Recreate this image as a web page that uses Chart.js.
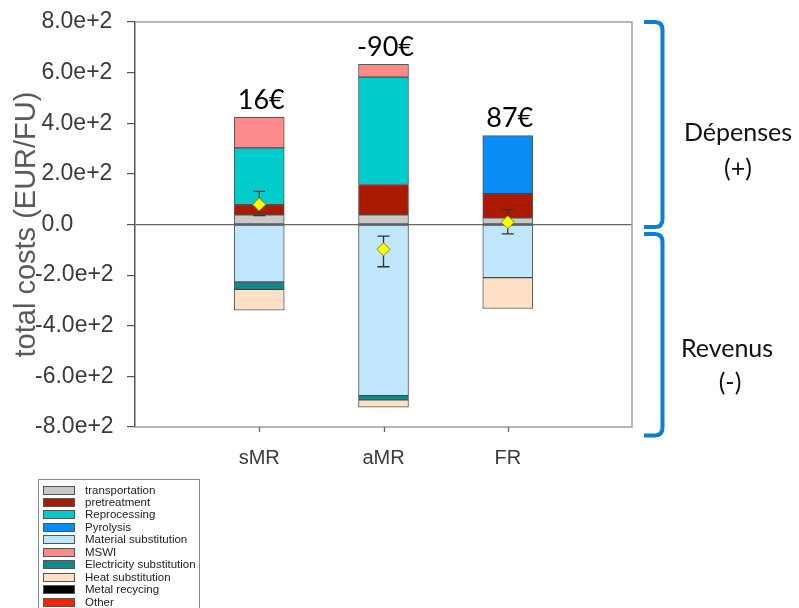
<!DOCTYPE html>
<html>
<head>
<meta charset="utf-8">
<script src="https://cdn.jsdelivr.net/npm/chart.js@4.4.1/dist/chart.umd.min.js"></script>
<style>
  html, body { margin: 0; padding: 0; background: #fff; }
  body { width: 799px; height: 608px; overflow: hidden; position: relative; font-family: "Liberation Sans", Arial, sans-serif; }
  #c { position: absolute; left: 0; top: 0; }
  .side { position: absolute; font-family: Lato, "Open Sans", sans-serif; font-size: 25px; color: #111; transform: translate(-50%, -50%); white-space: nowrap; line-height: 1; }
  #legend { position: absolute; left: 38px; top: 479px; width: 162px; height: 140px; border: 1px solid #8a8a8a; box-sizing: border-box; background: #fff; }
  .lg-row { position: absolute; left: 4px; height: 12px; white-space: nowrap; }
  .lg-sw { position: absolute; left: 0; top: 1px; width: 32px; height: 9px; border: 1px solid #555; box-sizing: border-box; }
  .lg-tx { position: absolute; left: 42px; top: -1px; font-size: 11.5px; color: #222; line-height: 12px; }
  svg { position: absolute; left: 0; top: 0; }
</style>
</head>
<body>
<canvas id="c" width="799" height="608"></canvas>
<svg width="799" height="608">
  <path d="M644,22 H655 Q662.5,22 662.5,30 V219 Q662.5,227 655,227 H644" fill="none" stroke="#0b80d3" stroke-width="4"/>
  <path d="M644,234 H655 Q662.5,234 662.5,242 V427 Q662.5,435.5 655,435.5 H644" fill="none" stroke="#0b80d3" stroke-width="4"/>
</svg>
<div class="side" style="left:738px; top:131px;">Dépenses</div>
<div class="side" style="left:738px; top:167px;">(+)</div>
<div class="side" style="left:727px; top:347px;">Revenus</div>
<div class="side" style="left:730px; top:381px;">(-)</div>
<div id="legend"></div>
<script>
// ---- data ----
const categories = ['sMR', 'aMR', 'FR'];
const seriesNames = ['transportation', 'pretreatment', 'Reprocessing', 'Pyrolysis', 'Material substitution', 'MSWI', 'Electricity substitution', 'Heat substitution', 'Metal recycing', 'Other'];
const seriesColors = ['#c8c8c8', '#ab1a00', '#00cccc', '#0b8cf5', '#bfe6fb', '#fd8a8a', '#0e8a8a', '#fde0c6', '#000000', '#ff2200'];
const transportation = [38, 38, 26];
const pretreatment = [40, 120, 96];
const reprocessing = [225, 424, null];
const pyrolysis = [null, null, 229];
const materialSubstitution = [-227, -676, -210];
const mswi = [120, 51, null];
const electricitySubstitution = [-29, -17, null];
const heatSubstitution = [-82, -29, -122];
const metalRecycling = [null, null, null];
const other = [null, null, null];
const meanTotal = [79, -98, 9];
const errLow = [35, -167, -37];
const errHigh = [131, -46, 59];
const annotations = ['16€', '-90€', '87€'];
const yTicks = [-800, -600, -400, -200, 0, 200, 400, 600, 800];

const seriesValues = [transportation, pretreatment, reprocessing, pyrolysis, materialSubstitution, mswi, electricitySubstitution, heatSubstitution, metalRecycling, other];

// padded category axis (blank slots at both ends)
const labels = [''].concat(categories, ['']);
const pad = arr => [null].concat(arr, [null]);

const datasets = seriesNames.map((name, i) => ({
  type: 'bar',
  label: name,
  data: pad(seriesValues[i]),
  backgroundColor: seriesColors[i],
  borderColor: 'rgba(45,45,45,0.8)',
  borderWidth: 1,
  borderSkipped: false,
  barThickness: 50,
  order: 1
}));
const meanIndex = datasets.length;
datasets.push({
  type: 'line',
  label: 'total',
  data: pad(meanTotal),
  showLine: false,
  stack: 'mean',
  pointStyle: 'rectRot',
  pointRadius: 6.5,
  pointBackgroundColor: '#ffff00',
  pointBorderColor: '#8c8a00',
  pointBorderWidth: 1,
  order: 0
});

// legend (HTML)
const lg = document.getElementById('legend');
seriesNames.forEach((n, i) => {
  const row = document.createElement('div');
  row.className = 'lg-row';
  row.style.top = (4.5 + i * 12.47) + 'px';
  row.innerHTML = '<div class="lg-sw" style="background:' + seriesColors[i] + '"></div><div class="lg-tx">' + n + '</div>';
  lg.appendChild(row);
});

const errorBarPlugin = {
  id: 'errbars',
  beforeDatasetDraw(chart, args) {
    if (args.index !== meanIndex) return;
    const {ctx} = chart; const xs = chart.scales.x, ys = chart.scales.y;
    ctx.save();
    ctx.strokeStyle = '#333'; ctx.lineWidth = 1.3;
    categories.forEach((c, i) => {
      const px = xs.getPixelForValue(i + 1);
      const yl = ys.getPixelForValue(errLow[i]), yh = ys.getPixelForValue(errHigh[i]);
      ctx.beginPath();
      ctx.moveTo(px, yl); ctx.lineTo(px, yh);
      ctx.moveTo(px - 6, yl); ctx.lineTo(px + 6, yl);
      ctx.moveTo(px - 6, yh); ctx.lineTo(px + 6, yh);
      ctx.stroke();
    });
    ctx.restore();
  }
};

const annotationPlugin = {
  id: 'ann',
  afterDatasetsDraw(chart) {
    const {ctx} = chart; const xs = chart.scales.x, ys = chart.scales.y;
    ctx.save();
    ctx.fillStyle = '#000';
    ctx.font = '27px Lato';
    ctx.textAlign = 'center'; ctx.textBaseline = 'middle';
    categories.forEach((c, i) => {
      let top = 0;
      seriesValues.forEach(s => { if (s[i] != null && s[i] > 0) top += s[i]; });
      ctx.fillText(annotations[i], xs.getPixelForValue(i + 1) + 2, ys.getPixelForValue(top) - 17);
    });
    ctx.restore();
  }
};

const framePlugin = {
  id: 'frame',
  beforeDatasetsDraw(chart) {
    const {ctx, chartArea: a} = chart;
    const xs = chart.scales.x;
    ctx.save();
    ctx.strokeStyle = '#a0a0a0'; ctx.lineWidth = 1.5;
    ctx.beginPath();
    ctx.moveTo(a.left, a.top); ctx.lineTo(a.right, a.top); ctx.lineTo(a.right, a.bottom); ctx.lineTo(a.left, a.bottom);
    ctx.stroke();
    // category tick marks below the plot
    ctx.strokeStyle = '#666'; ctx.lineWidth = 1.3;
    ctx.beginPath();
    categories.forEach((c, i) => {
      const px = Math.round(xs.getPixelForValue(i + 1)) + 0.5;
      ctx.moveTo(px, a.bottom); ctx.lineTo(px, a.bottom + 5);
    });
    ctx.stroke();
    ctx.restore();
  }
};

new Chart(document.getElementById('c'), {
  data: { labels: labels, datasets: datasets },
  plugins: [framePlugin, errorBarPlugin, annotationPlugin],
  options: {
    responsive: false,
    animation: false,
    devicePixelRatio: 1,
    layout: { padding: { left: 35, top: 22, right: 167, bottom: 121 } },
    plugins: { legend: { display: false }, tooltip: { enabled: false } },
    scales: {
      x: {
        stacked: true,
        offset: false,
        grid: { display: false },
        border: { display: false },
        ticks: { padding: 11, autoSkip: false, maxRotation: 0, color: '#3a3a3a', font: { family: 'Liberation Sans', size: 20 } },
        afterFit: s => { s.height = 60; }
      },
      y: {
        stacked: true,
        min: -800, max: 800,
        afterBuildTicks: s => { s.ticks = yTicks.map(v => ({ value: v })); },
        ticks: {
          crossAlign: 'far',
          color: '#3a3a3a',
          font: { family: 'Liberation Sans', size: 23 },
          callback: v => (v >= 0 ? '\u2008' : '') + (v === 0 ? '0.0' : (v / 100).toFixed(1) + 'e+2')
        },
        grid: { drawOnChartArea: true, tickLength: 8, lineWidth: 1.2,
                color: c => (c.tick && c.tick.value === 0) ? '#666' : 'rgba(0,0,0,0)', tickColor: '#555' },
        border: { display: true, color: '#555', width: 1.5 },
        title: { display: true, text: 'total costs (EUR/FU)', color: '#5a5a5a', font: { family: 'Liberation Sans', size: 29 }, padding: { top: -25, bottom: 0 } },
        afterFit: s => { s.width = 100; }
      }
    }
  }
});
</script>
</body>
</html>
